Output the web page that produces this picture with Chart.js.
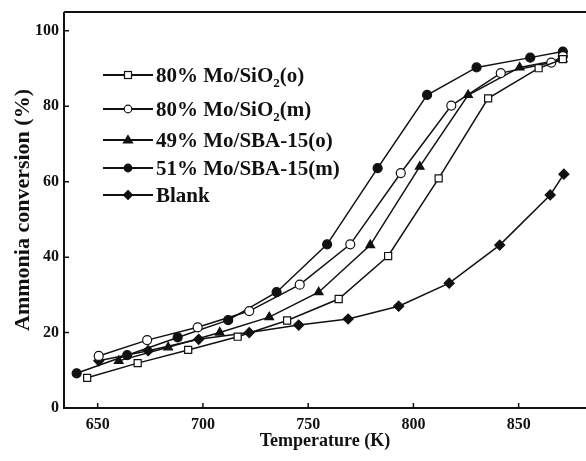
<!DOCTYPE html>
<html>
<head>
<meta charset="utf-8">
<script src="https://cdn.jsdelivr.net/npm/chart.js@4"></script>
<style>
    body { margin: 0; background: #fff; }
    #wrap { position: relative; width: 586px; height: 461px; }
    #legend {
        position: absolute; left: 103px; top: 0;
        font: bold 21px "Liberation Serif", "Times New Roman", serif; color: #111;
    }
    .row { position: absolute; left: 0; display: flex; align-items: center; height: 30px; white-space: nowrap; }
    .row svg { margin-right: 3px; }
    sub { font-size: 13px; vertical-align: -5px; line-height: 0; }
</style>
</head>
<body>
<div id="wrap">
    <canvas id="chart" width="586" height="461"></canvas>
    <div id="legend"></div>
</div>
<script>
// Temperatures (K) and conversions (%).
const sioOTemp = [645, 669, 693, 716.5, 740, 764.5, 788, 812, 835.5, 859.5, 871];
const sioOConv = [8.0, 11.9, 15.4, 18.9, 23.2, 28.9, 40.3, 60.9, 82.1, 90.1, 92.5];

const sioMTemp = [650.5, 673.5, 697.5, 722, 746, 770, 794, 818, 841.5, 865.5, 871];
const sioMConv = [13.8, 18.0, 21.4, 25.7, 32.7, 43.4, 62.3, 80.2, 88.8, 91.6, 93.3];

const sbaOTemp = [660, 683.5, 708, 731.5, 755, 779.5, 803, 826, 850.5, 871];
const sbaOConv = [12.5, 16.1, 20.0, 24.1, 30.7, 43.2, 64.0, 83.0, 90.3, 92.5];

const sbaMTemp = [640, 664, 688, 712, 735, 759, 783, 806.5, 830, 855.5, 871];
const sbaMConv = [9.2, 14.0, 18.7, 23.3, 30.7, 43.4, 63.6, 83.0, 90.3, 92.9, 94.5];

const blankTemp = [650.5, 674, 698, 722, 745.5, 769, 793, 817, 841, 865, 871.5];
const blankConv = [12.5, 15.2, 18.2, 20.0, 22.0, 23.6, 27.0, 33.1, 43.2, 56.5, 62.0];

const xTicks = [650, 700, 750, 800, 850];
const yTicks = [0, 20, 40, 60, 80, 100];

const INK = '#111';
const SERIF = '"Liberation Serif", "Times New Roman", serif';

const series = [
    { html: '80% Mo/SiO<sub>2</sub>(o)', t: sioOTemp, v: sioOConv, style: 'rect', r: 5, fill: '#fff', row: 75 },
    { html: '80% Mo/SiO<sub>2</sub>(m)', t: sioMTemp, v: sioMConv, style: 'circle', r: 4.5, fill: '#fff', row: 109 },
    { html: '49% Mo/SBA-15(o)', t: sbaOTemp, v: sbaOConv, style: 'triangle', r: 5, fill: INK, row: 140 },
    { html: '51% Mo/SBA-15(m)', t: sbaMTemp, v: sbaMConv, style: 'circle', r: 4.5, fill: INK, row: 168 },
    { html: 'Blank', t: blankTemp, v: blankConv, style: 'rectRot', r: 5, fill: INK, row: 195 },
];

function points(t, v) {
    return t.map((x, i) => ({ x, y: v[i] }));
}

// Legend swatch: short line, marker, short line.
function swatch(s) {
    const cx = 25, cy = 8;
    let mark;
    if (s.style === 'rect') mark = `<rect x="${cx - 3.5}" y="${cy - 3.5}" width="7" height="7"/>`;
    else if (s.style === 'circle') mark = `<circle cx="${cx}" cy="${cy}" r="3.8"/>`;
    else if (s.style === 'triangle') mark = `<polygon points="${cx},${cy - 4.5} ${cx + 4.5},${cy + 3} ${cx - 4.5},${cy + 3}"/>`;
    else mark = `<polygon points="${cx},${cy - 4.5} ${cx + 4.5},${cy} ${cx},${cy + 4.5} ${cx - 4.5},${cy}"/>`;
    return `<svg width="50" height="16"><line x1="0" y1="${cy}" x2="50" y2="${cy}" stroke="${INK}" stroke-width="2"/>
        <g fill="${s.fill}" stroke="${INK}" stroke-width="1.2">${mark}</g></svg>`;
}

document.getElementById('legend').innerHTML = series.map(s =>
    `<div class="row" style="top:${s.row - 15}px">${swatch(s)}<span>${s.html}</span></div>`).join('');

// Frame on left, bottom and top, with tick marks pointing inward.
const framePlugin = {
    id: 'frame',
    afterDraw(chart) {
        const { ctx, chartArea: a, scales: { x, y } } = chart;
        ctx.save();
        ctx.strokeStyle = INK;
        ctx.lineWidth = 2;
        ctx.beginPath();
        ctx.moveTo(a.left, a.top); ctx.lineTo(a.right, a.top);
        ctx.moveTo(a.left, a.top); ctx.lineTo(a.left, a.bottom); ctx.lineTo(a.right, a.bottom);
        ctx.stroke();
        ctx.lineWidth = 1.5;
        ctx.beginPath();
        x.ticks.forEach(t => {
            const px = x.getPixelForValue(t.value);
            ctx.moveTo(px, a.bottom); ctx.lineTo(px, a.bottom - 5);
        });
        y.ticks.forEach(t => {
            const py = y.getPixelForValue(t.value);
            ctx.moveTo(a.left, py); ctx.lineTo(a.left + 5, py);
        });
        ctx.stroke();
        ctx.restore();
    },
};

new Chart(document.getElementById('chart'), {
    type: 'line',
    data: {
        datasets: series.map(s => ({
            label: s.html.replace(/<\/?sub>/g, ''),
            data: points(s.t, s.v),
            borderColor: INK,
            borderWidth: 1.5,
            pointStyle: s.style,
            pointRadius: s.r,
            pointBackgroundColor: s.fill,
            pointBorderColor: INK,
            pointBorderWidth: 1.2,
            tension: 0,
            fill: false,
        })),
    },
    options: {
        responsive: false,
        animation: false,
        layout: { autoPadding: false, padding: { top: 12, right: 0, left: 0, bottom: 0 } },
        plugins: { legend: { display: false }, tooltip: { enabled: false } },
        scales: {
            x: {
                type: 'linear', min: 634, max: 882,
                afterBuildTicks: s => { s.ticks = xTicks.map(value => ({ value })); },
                afterFit: s => { s.height = 53; s.paddingLeft = 0; s.paddingRight = 0; },
                grid: { display: false, drawTicks: false },
                border: { display: false },
                ticks: { color: INK, padding: 7, font: { family: SERIF, size: 16, weight: 'bold' } },
                title: {
                    display: true, text: 'Temperature (K)', color: INK,
                    padding: { top: 0, bottom: 9 },
                    font: { family: SERIF, size: 18, weight: 'bold' },
                },
            },
            y: {
                min: 0, max: 105,
                afterBuildTicks: s => { s.ticks = yTicks.map(value => ({ value })); },
                afterFit: s => { s.width = 64; s.paddingTop = 0; s.paddingBottom = 0; },
                grid: { display: false, drawTicks: false },
                border: { display: false },
                ticks: { color: INK, padding: 5, font: { family: SERIF, size: 16, weight: 'bold' } },
                title: {
                    display: true, text: 'Ammonia conversion (%)', color: INK,
                    padding: { top: 10, bottom: 0 },
                    font: { family: SERIF, size: 22, weight: 'bold' },
                },
            },
        },
    },
    plugins: [framePlugin],
});
</script>
</body>
</html>
